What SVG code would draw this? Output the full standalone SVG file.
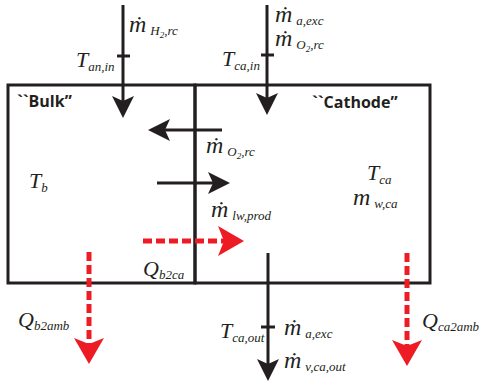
<svg xmlns="http://www.w3.org/2000/svg" width="479" height="381" viewBox="0 0 479 381">
<style>
.ln{stroke:#231f20;stroke-width:3;fill:none}
.rd{stroke:#ed1c24;stroke-width:5;fill:none;stroke-dasharray:9,4}
.sym{font-family:"Liberation Serif","DejaVu Serif",serif;font-style:italic;fill:#231f20}
.big{font-size:22px}
.m{font-size:24px}
.sub{font-size:13px}
.ss{font-size:9px}
.lbl{font-family:"Open Sans","Liberation Sans",sans-serif;font-weight:bold;font-size:16px;fill:#231f20}
</style>
<defs>
<marker id="ab" viewBox="0 0 22 22" refX="12" refY="11" markerWidth="22" markerHeight="22" markerUnits="userSpaceOnUse" orient="auto">
<path d="M0,0 L22,11 L0,22 L5,11 Z" fill="#231f20"/>
</marker>
<marker id="ar" viewBox="0 0 26 30" refX="11" refY="15" markerWidth="26" markerHeight="30" markerUnits="userSpaceOnUse" orient="auto">
<path d="M0,0 L26,15 L0,30 L6,15 Z" fill="#ed1c24"/>
</marker>
</defs>
<g id="bulk">
<rect x="8" y="85" width="187" height="198" class="ln"/>
<text class="lbl" x="17" y="107">``Bulk”</text>
<text class="sym big" x="29" y="188">T<tspan class="sub" dy="4">b</tspan></text>
</g>
<g id="cathode">
<rect x="195" y="85" width="235" height="198" class="ln"/>
<text class="lbl" x="312" y="108">``Cathode”</text>
<text class="sym big" x="367" y="180">T<tspan class="sub" dy="4">ca</tspan></text>
<text class="sym m" x="353" y="205">m<tspan class="sub" dx="4" dy="3">w,ca</tspan></text>
</g>
<g id="connectors">
<line x1="123" y1="5" x2="123" y2="108" class="ln" marker-end="url(#ab)"/>
<line x1="117" y1="56" x2="130" y2="56" class="ln"/>
<line x1="267" y1="5" x2="267" y2="105" class="ln" marker-end="url(#ab)"/>
<line x1="261" y1="55" x2="274" y2="55" class="ln"/>
<line x1="222" y1="130" x2="158" y2="130" class="ln" marker-end="url(#ab)"/>
<line x1="157" y1="183" x2="220" y2="183" class="ln" marker-end="url(#ab)"/>
<line x1="268" y1="253" x2="268" y2="371" class="ln" marker-end="url(#ab)"/>
<line x1="261" y1="327" x2="275" y2="327" class="ln"/>
<line x1="143" y1="241" x2="229" y2="241" class="rd" marker-end="url(#ar)"/>
<line x1="89" y1="252" x2="89" y2="349" class="rd" marker-end="url(#ar)"/>
<line x1="407" y1="253" x2="407" y2="351" class="rd" marker-end="url(#ar)"/>
</g>
<g id="labels">
<text class="sym m" x="129" y="32">ṁ<tspan class="sub" dx="4" dy="3">H</tspan><tspan class="ss" dy="3">2</tspan><tspan class="sub" dy="-3">,rc</tspan></text>
<text class="sym big" x="76" y="67">T<tspan class="sub" dy="4">an,in</tspan></text>
<text class="sym m" x="275" y="22">ṁ<tspan class="sub" dx="4" dy="3">a,exc</tspan></text>
<text class="sym m" x="275" y="46">ṁ<tspan class="sub" dx="4" dy="3">O</tspan><tspan class="ss" dy="3">2</tspan><tspan class="sub" dy="-3">,rc</tspan></text>
<text class="sym big" x="222" y="66">T<tspan class="sub" dy="4">ca,in</tspan></text>
<text class="sym m" x="206" y="153">ṁ<tspan class="sub" dx="4" dy="3">O</tspan><tspan class="ss" dy="3">2</tspan><tspan class="sub" dy="-3">,rc</tspan></text>
<text class="sym m" x="211" y="217">ṁ<tspan class="sub" dx="4" dy="3">lw,prod</tspan></text>
<text class="sym big" x="143" y="276">Q<tspan class="sub" dy="3">b2ca</tspan></text>
<text class="sym big" x="18" y="327">Q<tspan class="sub" dy="3">b2amb</tspan></text>
<text class="sym big" x="422" y="328">Q<tspan class="sub" dy="3">ca2amb</tspan></text>
<text class="sym big" x="220" y="338">T<tspan class="sub" dy="4">ca,out</tspan></text>
<text class="sym m" x="284" y="335">ṁ<tspan class="sub" dx="4" dy="3">a,exc</tspan></text>
<text class="sym m" x="284" y="368">ṁ<tspan class="sub" dx="4" dy="3">v,ca,out</tspan></text>
</g>
</svg>
